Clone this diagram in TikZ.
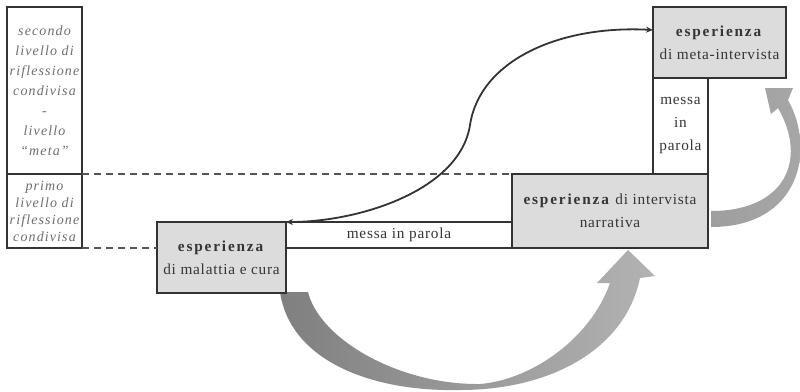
\documentclass[tikz,border=0pt]{standalone}
\usepackage{fontspec}
\setmainfont{Liberation Serif}[LetterSpace=5, BoldFeatures={LetterSpace=12}, ItalicFeatures={LetterSpace=8}]
\usetikzlibrary{arrows.meta,backgrounds}
\definecolor{linec}{HTML}{333333}
\definecolor{boxfill}{HTML}{DCDCDC}
\definecolor{txt}{HTML}{353535}
\definecolor{lefttxt}{HTML}{6E6E6E}
\definecolor{dashc}{HTML}{555555}
\begin{document}
\begin{tikzpicture}[x=1pt,y=-1pt,
  box/.style={draw=linec, line width=2pt, fill=boxfill, text=txt, align=center,
    inner sep=0pt, outer sep=0pt, font=\fontsize{15.3}{23}\selectfont},
  leftbox/.style={box, fill=white, text=lefttxt, minimum width=75pt},
  wordbox/.style={box, fill=white},
  dashline/.style={draw=dashc, line width=1.7pt, dash pattern=on 7pt off 5pt},
  curve/.style={draw=linec, line width=1.8pt, {Stealth[length=7pt,width=6pt]}-{Stealth[length=7pt,width=6pt]}},
  bigarrow/.style={draw=none}
]
\useasboundingbox (0,0) rectangle (800,391);

\node[leftbox, minimum height=167pt, font=\itshape\fontsize{14}{20}\selectfont] (lt) at (44.5,90.5)
  {secondo\\livello di\\riflessione\\condivisa\\-\\livello\\“meta”};
\node[leftbox, minimum height=74pt, font=\itshape\fontsize{14}{17}\selectfont] (lb) at (44.5,211)
  {primo\\livello di\\riflessione\\condivisa};

\node[box, minimum width=129pt, minimum height=71pt] (mal) at (221.5,257.5)
  {\textbf{esperienza}\\di malattia e cura};
\node[wordbox, minimum width=226pt, minimum height=26pt] (mph) at (399,235) {messa in parola};
\node[box, minimum width=196pt, minimum height=74pt] (narr) at (610,211)
  {\textbf{esperienza} di intervista\\narrativa};
\node[wordbox, minimum width=55pt, minimum height=96pt] (mpv) at (680.5,126)
  {messa\\in\\parola};
\node[box, minimum width=133pt, minimum height=71pt] (meta) at (719.5,42.5)
  {\textbf{esperienza}\\di meta-intervista};

\draw[dashline] (lt.south east) -- (narr.north west);
\draw[dashline] (lb.south east) -- (lb.south east -| mal.west);

\draw[curve] ([yshift=12.5pt]meta.west) .. controls (560,25) and (480,60) .. (470,125)
  .. controls (460,190) and (360,222) .. (mal.north east);

\begin{scope}[on background layer]
\shade[bigarrow, left color=black!50, right color=black!30]
  (280,292) .. controls (290,360) and (370,392) .. (460,390)
  .. controls (550,390) and (625,350) .. (640,278)
  -- (655,276) -- (628,250) -- (597,283) -- (610,283)
  .. controls (590,340) and (530,380) .. (480,384)
  .. controls (400,385) and (320,340) .. (308,292) -- cycle;
\shade[bigarrow, left color=black!38, right color=black!34]
  (711,211) .. controls (785,211) and (808,160) .. (778,108)
  -- (771,114) -- (765,88) -- (793,88) -- (788,100)
  .. controls (816,150) and (800,227) .. (711,227) -- cycle;
\end{scope}
\end{tikzpicture}
\end{document}
